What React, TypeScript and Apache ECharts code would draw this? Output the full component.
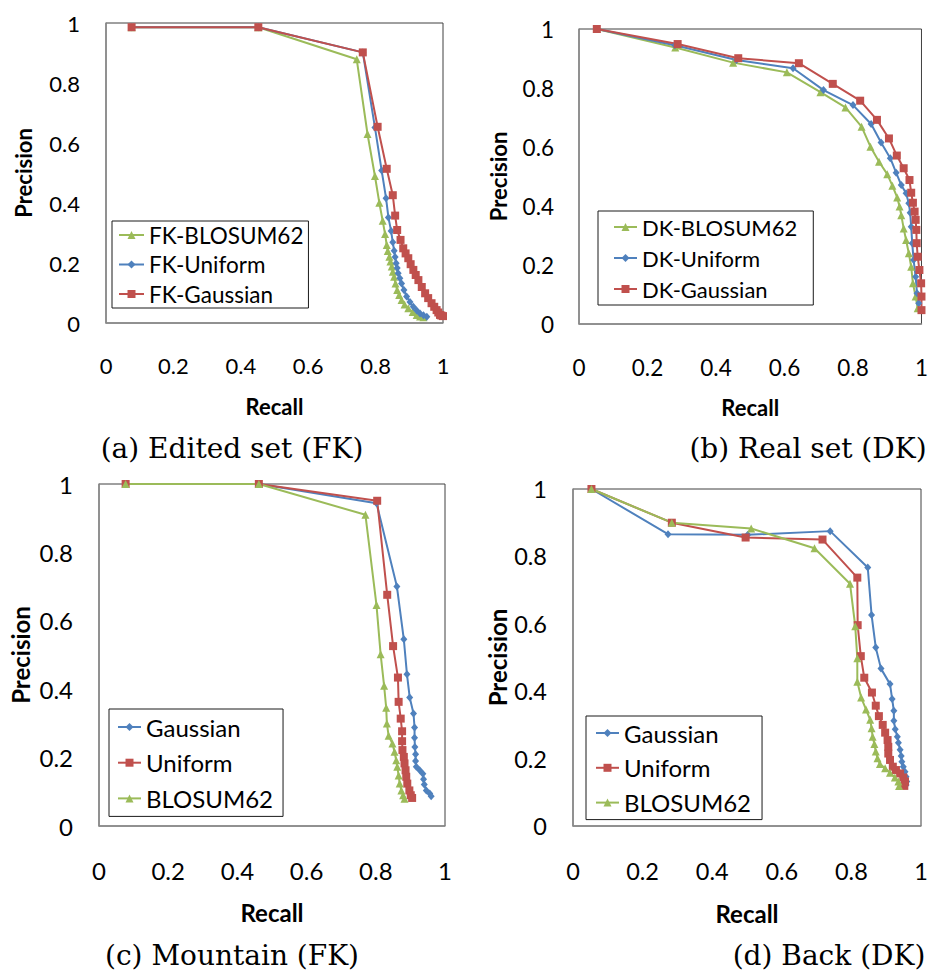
import React, { useEffect, useRef } from "react";
import * as echarts from "echarts";

// ---------- data (recall / precision) ----------
const TICKS = [0, 0.2, 0.4, 0.6, 0.8, 1];

// (a) Edited set (FK)
const A_BLOSUM62_R = [0.076, 0.452, 0.744, 0.776, 0.798, 0.811, 0.821, 0.828, 0.833, 0.836, 0.841, 0.844, 0.848, 0.851, 0.855, 0.859, 0.864, 0.87, 0.877, 0.886, 0.897, 0.91, 0.922, 0.932, 0.942];
const A_BLOSUM62_P = [0.986, 0.986, 0.879, 0.63, 0.49, 0.401, 0.341, 0.297, 0.26, 0.24, 0.221, 0.205, 0.188, 0.171, 0.154, 0.132, 0.11, 0.093, 0.077, 0.062, 0.049, 0.037, 0.027, 0.022, 0.019];
const A_UNIFORM_R = [0.076, 0.452, 0.762, 0.798, 0.818, 0.831, 0.838, 0.846, 0.851, 0.855, 0.858, 0.861, 0.864, 0.867, 0.872, 0.877, 0.884, 0.892, 0.902, 0.912, 0.922, 0.932, 0.942, 0.952];
const A_UNIFORM_P = [0.986, 0.986, 0.902, 0.652, 0.508, 0.416, 0.352, 0.307, 0.269, 0.241, 0.22, 0.199, 0.183, 0.166, 0.149, 0.132, 0.11, 0.088, 0.07, 0.054, 0.042, 0.032, 0.026, 0.021];
const A_GAUSSIAN_R = [0.076, 0.452, 0.762, 0.806, 0.833, 0.851, 0.858, 0.864, 0.874, 0.882, 0.889, 0.897, 0.904, 0.912, 0.919, 0.927, 0.937, 0.947, 0.956, 0.966, 0.974, 0.981, 0.986, 0.991, 0.995, 1.0];
const A_GAUSSIAN_P = [0.986, 0.986, 0.902, 0.654, 0.514, 0.426, 0.358, 0.31, 0.277, 0.249, 0.232, 0.216, 0.196, 0.177, 0.16, 0.143, 0.12, 0.099, 0.083, 0.066, 0.054, 0.043, 0.035, 0.027, 0.025, 0.023];

// (b) Real set (DK)
const B_BLOSUM62_R = [0.052, 0.281, 0.45, 0.607, 0.705, 0.778, 0.825, 0.851, 0.876, 0.9, 0.915, 0.929, 0.936, 0.941, 0.948, 0.955, 0.963, 0.97, 0.975, 0.983, 0.989];
const B_BLOSUM62_P = [1.0, 0.937, 0.886, 0.853, 0.786, 0.734, 0.669, 0.601, 0.55, 0.508, 0.469, 0.429, 0.398, 0.369, 0.324, 0.285, 0.24, 0.194, 0.138, 0.093, 0.053];
const B_UNIFORM_R = [0.052, 0.28, 0.46, 0.625, 0.714, 0.8, 0.853, 0.882, 0.909, 0.926, 0.941, 0.955, 0.963, 0.967, 0.97, 0.973, 0.977, 0.983, 0.987, 0.992];
const B_UNIFORM_P = [1.0, 0.945, 0.895, 0.867, 0.793, 0.742, 0.678, 0.615, 0.562, 0.513, 0.471, 0.443, 0.409, 0.377, 0.33, 0.274, 0.217, 0.16, 0.104, 0.07];
const B_GAUSSIAN_R = [0.052, 0.288, 0.465, 0.642, 0.741, 0.821, 0.87, 0.905, 0.928, 0.948, 0.965, 0.97, 0.975, 0.98, 0.983, 0.985, 0.986, 0.989, 0.994, 0.999, 1.0, 1.0];
const B_GAUSSIAN_P = [1.0, 0.949, 0.901, 0.884, 0.814, 0.757, 0.692, 0.629, 0.571, 0.528, 0.488, 0.445, 0.411, 0.381, 0.353, 0.319, 0.274, 0.228, 0.183, 0.138, 0.093, 0.047];

// (c) Mountain (FK)
const C_GAUSSIAN_R = [0.077, 0.462, 0.802, 0.861, 0.881, 0.89, 0.898, 0.909, 0.912, 0.912, 0.913, 0.915, 0.915, 0.917, 0.927, 0.936, 0.938, 0.94, 0.946, 0.956, 0.96];
const C_GAUSSIAN_P = [1.0, 1.0, 0.944, 0.7, 0.546, 0.444, 0.376, 0.329, 0.288, 0.258, 0.231, 0.21, 0.19, 0.173, 0.163, 0.153, 0.137, 0.121, 0.104, 0.095, 0.087];
const C_UNIFORM_R = [0.077, 0.462, 0.804, 0.833, 0.85, 0.864, 0.866, 0.872, 0.876, 0.876, 0.877, 0.881, 0.883, 0.886, 0.888, 0.891, 0.897, 0.901, 0.905];
const C_UNIFORM_P = [1.0, 1.0, 0.951, 0.676, 0.526, 0.434, 0.363, 0.314, 0.277, 0.248, 0.222, 0.202, 0.183, 0.163, 0.144, 0.124, 0.104, 0.09, 0.082];
const C_BLOSUM62_R = [0.077, 0.462, 0.77, 0.802, 0.814, 0.824, 0.83, 0.832, 0.837, 0.848, 0.854, 0.859, 0.862, 0.866, 0.869, 0.874, 0.879, 0.883];
const C_BLOSUM62_P = [1.0, 1.0, 0.91, 0.646, 0.502, 0.41, 0.346, 0.3, 0.264, 0.241, 0.217, 0.192, 0.173, 0.148, 0.124, 0.104, 0.09, 0.08];

// (d) Back (DK)
const D_GAUSSIAN_R = [0.053, 0.273, 0.502, 0.739, 0.847, 0.858, 0.87, 0.885, 0.911, 0.917, 0.922, 0.922, 0.926, 0.932, 0.935, 0.94, 0.943, 0.945, 0.949, 0.954, 0.957, 0.959, 0.957];
const D_GAUSSIAN_P = [1.0, 0.866, 0.864, 0.875, 0.767, 0.626, 0.53, 0.467, 0.421, 0.377, 0.342, 0.312, 0.287, 0.265, 0.247, 0.226, 0.208, 0.191, 0.176, 0.161, 0.146, 0.132, 0.122];
const D_UNIFORM_R = [0.053, 0.284, 0.496, 0.717, 0.817, 0.818, 0.827, 0.837, 0.859, 0.87, 0.879, 0.89, 0.897, 0.904, 0.906, 0.906, 0.911, 0.919, 0.928, 0.94, 0.949, 0.954, 0.952];
const D_UNIFORM_P = [1.0, 0.9, 0.856, 0.85, 0.737, 0.596, 0.504, 0.44, 0.396, 0.357, 0.326, 0.3, 0.277, 0.255, 0.235, 0.215, 0.196, 0.176, 0.166, 0.156, 0.144, 0.132, 0.119];
const D_BLOSUM62_R = [0.053, 0.284, 0.512, 0.694, 0.796, 0.811, 0.817, 0.817, 0.828, 0.842, 0.854, 0.858, 0.861, 0.866, 0.87, 0.875, 0.882, 0.897, 0.911, 0.925, 0.935, 0.937];
const D_BLOSUM62_P = [1.0, 0.9, 0.883, 0.824, 0.719, 0.593, 0.498, 0.428, 0.381, 0.346, 0.315, 0.29, 0.265, 0.243, 0.221, 0.201, 0.184, 0.171, 0.158, 0.144, 0.132, 0.119];

const CAPTIONS = ["(a) Edited set (FK)", "(b) Real set (DK)", "(c) Mountain (FK)", "(d) Back (DK)"];

// ---------- styles ----------
const SANS = "Lato";
const SERIF = "DejaVu Serif";

const STYLE: Record<string, any> = {
  red: { color: "#C0504D", symbol: "rect", size: 8 },
  blue: { color: "#4F81BD", symbol: "diamond", size: [7, 8] },
  green: { color: "#9BBB59", symbol: "triangle", size: 8 },
};

const PANELS = [
  {
    grid: { left: 106, top: 23, width: 337, height: 300 },
    fs: 22, nameFs: 22, xMargin: 31, yMargin: 26, xNameGap: 72, yNameGap: 72,
    series: [
      ["FK-BLOSUM62", "green", A_BLOSUM62_R, A_BLOSUM62_P],
      ["FK-Uniform", "blue", A_UNIFORM_R, A_UNIFORM_P],
      ["FK-Gaussian", "red", A_GAUSSIAN_R, A_GAUSSIAN_P],
    ],
    legend: { left: 112, top: 221, fs: 22.5, lh: 24, gap: 5.5, iw: 25, padding: [2, 5, 2, 6] },
    caption: { x: 232, y: 448 },
  },
  {
    grid: { left: 579, top: 29, width: 343, height: 295 },
    fs: 22.5, nameFs: 22, xMargin: 32, yMargin: 25, xNameGap: 72, yNameGap: 70,
    series: [
      ["DK-BLOSUM62", "green", B_BLOSUM62_R, B_BLOSUM62_P],
      ["DK-Uniform", "blue", B_UNIFORM_R, B_UNIFORM_P],
      ["DK-Gaussian", "red", B_GAUSSIAN_R, B_GAUSSIAN_P],
    ],
    legend: { left: 598, top: 211, fs: 22, lh: 24, gap: 7, iw: 23, padding: [4, 16, 4, 15] },
    caption: { x: 808, y: 448 },
  },
  {
    grid: { left: 99, top: 484, width: 346, height: 342 },
    fs: 24, nameFs: 24, xMargin: 32, yMargin: 26, xNameGap: 74, yNameGap: 67,
    series: [
      ["Gaussian", "blue", C_GAUSSIAN_R, C_GAUSSIAN_P],
      ["Uniform", "red", C_UNIFORM_R, C_UNIFORM_P],
      ["BLOSUM62", "green", C_BLOSUM62_R, C_BLOSUM62_P],
    ],
    legend: { left: 109, top: 709, fs: 24, lh: 26, gap: 9.7, iw: 23, padding: [5, 10, 5, 8] },
    caption: { x: 232, y: 955 },
  },
  {
    grid: { left: 573, top: 489, width: 348, height: 337 },
    fs: 23.5, nameFs: 24, xMargin: 33, yMargin: 26, xNameGap: 75, yNameGap: 64,
    series: [
      ["Gaussian", "blue", D_GAUSSIAN_R, D_GAUSSIAN_P],
      ["Uniform", "red", D_UNIFORM_R, D_UNIFORM_P],
      ["BLOSUM62", "green", D_BLOSUM62_R, D_BLOSUM62_P],
    ],
    legend: { left: 586, top: 716, fs: 24, lh: 26, gap: 8.8, iw: 23, padding: [4, 11, 4, 9] },
    caption: { x: 829, y: 955 },
  },
];

function buildOption() {
  const grid: any[] = [];
  const xAxis: any[] = [];
  const yAxis: any[] = [];
  const series: any[] = [];
  const legend: any[] = [];
  const graphic: any[] = [];

  PANELS.forEach((p, i) => {
    grid.push({ ...p.grid, show: true, borderColor: "#404040", borderWidth: 1, backgroundColor: "#fff" });
    const common = {
      gridIndex: i,
      type: "value",
      min: 0,
      max: 1,
      interval: 0.2,
      axisTick: { show: false },
      splitLine: { show: false },
      axisLine: { show: true, onZero: false, lineStyle: { color: "#8c8c8c", width: 1.5 } },
      nameTextStyle: { fontFamily: SANS, fontWeight: "bold", fontSize: p.nameFs, color: "#000" },
      nameLocation: "middle",
    };
    xAxis.push({
      ...common,
      name: "Recall",
      nameGap: p.xNameGap,
      axisLabel: {
        margin: p.xMargin, fontFamily: SANS, fontSize: p.fs, color: "#000",
        formatter: (v: number) => (TICKS.some((t) => Math.abs(t - v) < 1e-9) ? String(+v.toFixed(1)) : ""),
      },
    });
    yAxis.push({
      ...common,
      name: "Precision",
      nameRotate: 90,
      nameGap: p.yNameGap,
      axisLabel: {
        margin: p.yMargin, fontFamily: SANS, fontSize: p.fs, color: "#000",
        formatter: (v: number) => String(+v.toFixed(1)),
      },
    });
    p.series.forEach(([name, kind, R, P]: any) => {
      const st = STYLE[kind];
      series.push({
        type: "line",
        name,
        xAxisIndex: i,
        yAxisIndex: i,
        data: (R as number[]).map((r, k) => [r, (P as number[])[k]]),
        symbol: st.symbol,
        symbolSize: st.size,
        showAllSymbol: true,
        color: st.color,
        lineStyle: { color: st.color, width: 2 },
        itemStyle: { color: st.color, borderWidth: 0 },
        emphasis: { disabled: true },
      });
    });
    const L = p.legend;
    legend.push({
      orient: "vertical",
      left: L.left,
      top: L.top,
      padding: L.padding,
      itemGap: L.gap,
      itemWidth: L.iw,
      itemHeight: 10,
      borderColor: "#1a1a1a",
      borderWidth: 1,
      backgroundColor: "#fff",
      selectedMode: false,
      data: p.series.map((s: any) => s[0]),
      textStyle: { fontFamily: SANS, fontSize: L.fs, lineHeight: L.lh, color: "#000", padding: 0 },
    });
    graphic.push({
      type: "text",
      x: p.caption.x,
      y: p.caption.y,
      style: {
        text: CAPTIONS[i],
        font: `28px "${SERIF}"`,
        fill: "#000",
        textAlign: "center",
        textVerticalAlign: "middle",
      },
    });
  });

  return { animation: false, backgroundColor: "#fff", grid, xAxis, yAxis, series, legend, graphic };
}

export default function App() {
  const ref = useRef<HTMLDivElement>(null);
  useEffect(() => {
    if (!ref.current) return;
    const chart = echarts.init(ref.current, undefined, { renderer: "svg" });
    chart.setOption(buildOption() as any);
    return () => chart.dispose();
  }, []);
  return (
    <div
      ref={ref}
      style={{ position: "fixed", left: 0, top: 0, width: 931, height: 971, background: "#fff" }}
    />
  );
}
